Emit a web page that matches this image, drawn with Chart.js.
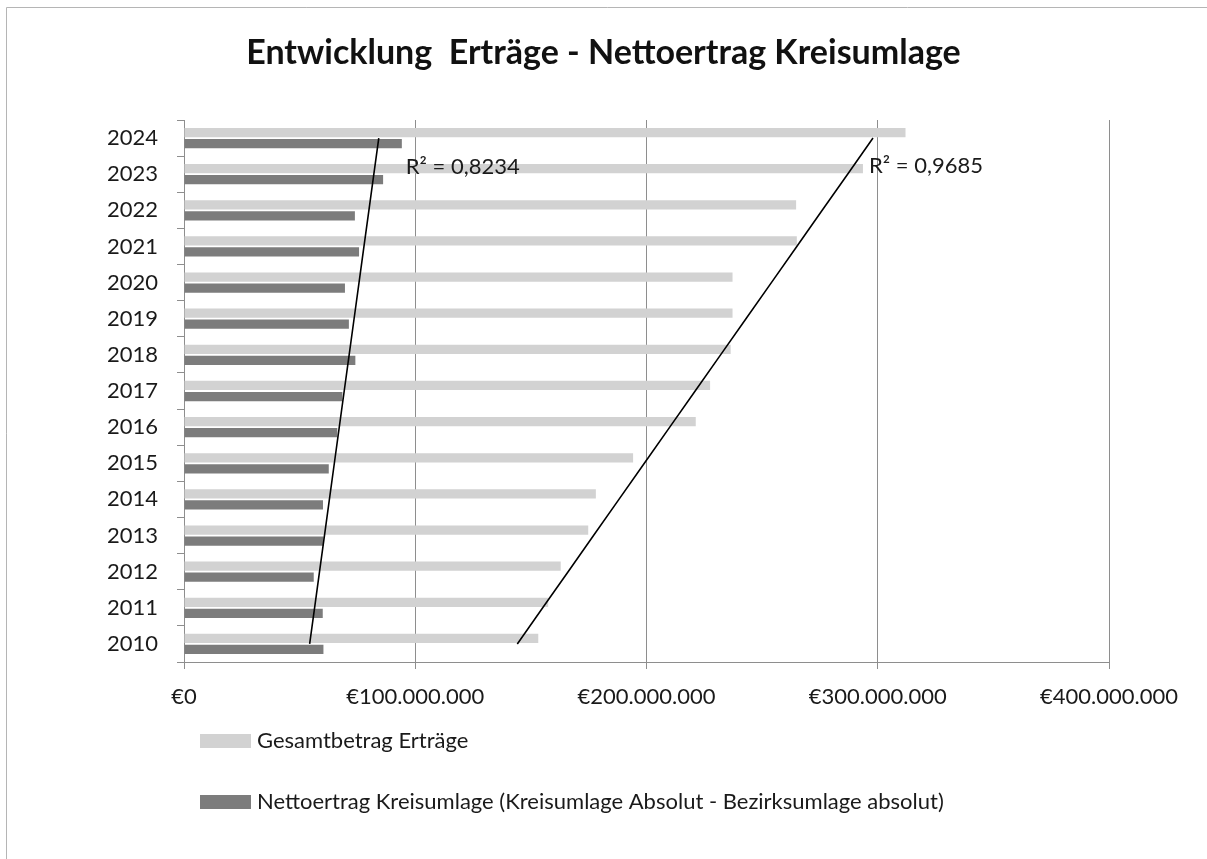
<!DOCTYPE html>
<html lang="de">
<head>
<meta charset="utf-8">
<title>Entwicklung Erträge - Nettoertrag Kreisumlage</title>
<script src="https://cdn.jsdelivr.net/npm/chart.js@4.4.1/dist/chart.umd.min.js"></script>
<style>
  html, body { margin: 0; padding: 0; background: #fff; }
  #chart { display: block; }
</style>
</head>
<body>
<canvas id="chart" width="1207" height="859"></canvas>
<script>
const years = ["2010", "2011", "2012", "2013", "2014", "2015", "2016", "2017",
               "2018", "2019", "2020", "2021", "2022", "2023", "2024"];

// Beträge in Euro
const gesamtErtraege = [153200000, 157500000, 162900000, 174800000, 178100000,
                        194200000, 221300000, 227500000, 236400000, 237200000,
                        237200000, 265000000, 264700000, 293600000, 312000000];
const nettoKreisumlage = [60300000, 60000000, 56100000, 60400000, 60100000,
                          62600000, 66300000, 68500000, 74100000, 71300000,
                          69600000, 75700000, 73900000, 86100000, 94200000];

const xTicks = [0, 100000000, 200000000, 300000000, 400000000];
const r2Texts = ["R² = 0,9685", "R² = 0,8234"];
const titleText = "Entwicklung  Erträge - Nettoertrag Kreisumlage";

const colLight = "#d2d2d2";
const colDark = "#7c7c7c";
const colAxis = "#8e8e8e";

// lineare Trendlinie (kleinste Quadrate) über die Jahre
function trend(values) {
  const n = values.length;
  const mx = (n - 1) / 2;
  const my = values.reduce((s, v) => s + v, 0) / n;
  let sxy = 0, sxx = 0;
  values.forEach((v, i) => { sxy += (i - mx) * (v - my); sxx += (i - mx) * (i - mx); });
  const k = sxy / sxx;
  return values.map((_, i) => my + k * (i - mx));
}

const euro = (v) => "€" + String(v).replace(/\B(?=(\d{3})+(?!\d))/g, ".");

Chart.defaults.font.family = "Lato, 'Open Sans', sans-serif";
Chart.defaults.color = "#1a1a1a";

// Rahmen, Titel, Legende und R²-Beschriftungen
const extras = {
  id: "extras",
  afterDraw(chart) {
    const ctx = chart.ctx;
    ctx.save();
    ctx.strokeStyle = "#b5b5b5";
    ctx.lineWidth = 1;
    ctx.beginPath();
    ctx.moveTo(6.5, 900);
    ctx.lineTo(6.5, 7.5);
    ctx.lineTo(1300, 7.5);
    ctx.stroke();

    // Titel über die ganze Breite zentriert
    ctx.font = "bold 34px Lato";
    ctx.fillStyle = "#111";
    ctx.textAlign = "center";
    ctx.textBaseline = "middle";
    ctx.fillText(titleText, chart.width / 2, 53);

    ctx.textAlign = "left";
    ctx.font = "22px Lato";
    ctx.fillStyle = "#1a1a1a";

    // R² an den oberen Enden der Trendlinien
    const tLight = chart.getDatasetMeta(2).data;
    const tDark = chart.getDatasetMeta(3).data;
    const pL = tLight[tLight.length - 1];
    const pD = tDark[tDark.length - 1];
    ctx.fillText(r2Texts[0], pL.x - 4, pL.y + 28);
    ctx.fillText(r2Texts[1], pD.x + 27, pD.y + 29);

    // Legende untereinander
    const rows = [741, 802];
    [0, 1].forEach((i, r) => {
      const ds = chart.data.datasets[i];
      ctx.fillStyle = ds.backgroundColor;
      ctx.fillRect(200, rows[r] - 7, 51, 14);
      ctx.fillStyle = "#1a1a1a";
      ctx.fillText(ds.label, 257, rows[r]);
    });
    ctx.restore();
  }
};

new Chart(document.getElementById("chart"), {
  type: "bar",
  data: {
    labels: years,
    datasets: [
      {
        label: "Gesamtbetrag Erträge",
        data: gesamtErtraege,
        backgroundColor: colLight,
        categoryPercentage: 0.61,
        barPercentage: 0.84,
        order: 2
      },
      {
        label: "Nettoertrag Kreisumlage (Kreisumlage Absolut - Bezirksumlage absolut)",
        data: nettoKreisumlage,
        backgroundColor: colDark,
        categoryPercentage: 0.61,
        barPercentage: 0.84,
        order: 2
      },
      {
        type: "line",
        indexAxis: "y",
        label: "Trend Erträge",
        data: trend(gesamtErtraege),
        borderColor: "#000",
        borderWidth: 1.6,
        pointRadius: 0,
        fill: false,
        order: 1
      },
      {
        type: "line",
        indexAxis: "y",
        label: "Trend Nettoertrag",
        data: trend(nettoKreisumlage),
        borderColor: "#000",
        borderWidth: 1.6,
        pointRadius: 0,
        fill: false,
        order: 1
      }
    ]
  },
  options: {
    indexAxis: "y",
    responsive: false,
    animation: false,
    layout: { padding: { left: 0, right: 98, top: 120, bottom: 137 } },
    plugins: {
      legend: { display: false },
      tooltip: { enabled: false },
      title: { display: false }
    },
    scales: {
      x: {
        type: "linear",
        min: 0,
        max: 400000000,
        afterBuildTicks: (s) => { s.ticks = xTicks.map(v => ({ value: v })); },
        afterFit: (s) => { s.height = 60; },
        ticks: {
          font: { size: 22 },
          padding: 15,
          maxRotation: 0,
          callback: (v) => euro(v)
        },
        grid: { color: colAxis, tickLength: 7, drawTicks: true },
        border: { display: true, color: colAxis }
      },
      y: {
        type: "category",
        reverse: true,
        afterFit: (s) => { s.width = 184; },
        ticks: { font: { size: 22 }, padding: 19 },
        grid: { offset: true, drawOnChartArea: false, drawTicks: true, tickLength: 7, color: colAxis },
        border: { display: true, color: colAxis }
      }
    }
  },
  plugins: [extras]
});
</script>
</body>
</html>
